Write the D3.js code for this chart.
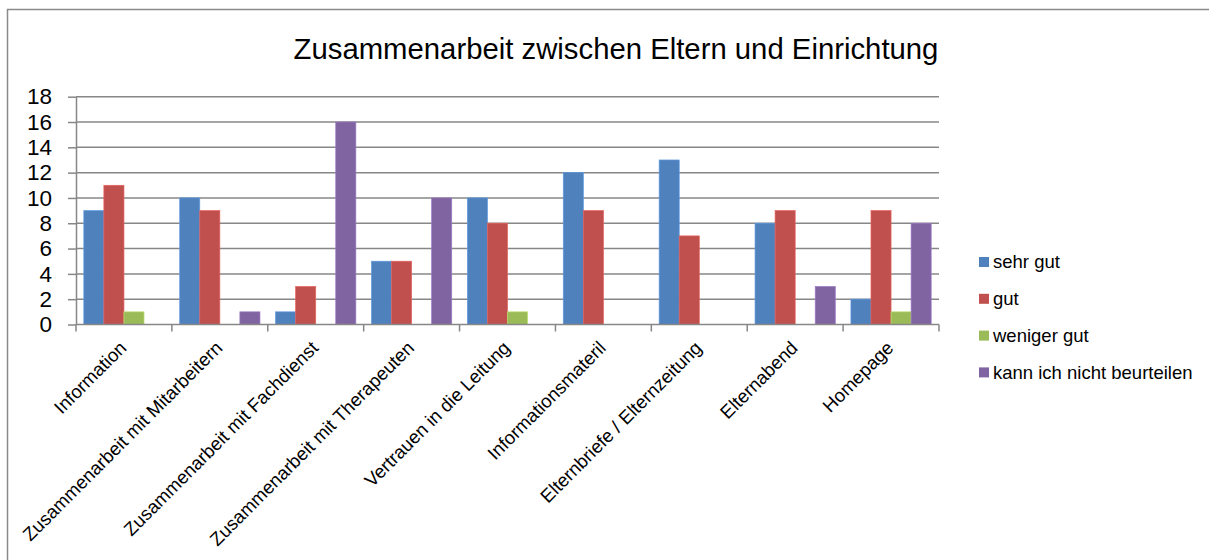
<!DOCTYPE html>
<html>
<head>
<meta charset="utf-8">
<script src="https://cdn.jsdelivr.net/npm/d3@7"></script>
<style>
	body { margin: 0; background: #fff; }
	svg { display: block; font-family: 'Liberation Sans', Arial, sans-serif; }
</style>
</head>
<body>
<div id="chart"></div>
<script>
// Daten
const categories = ['Information', 'Zusammenarbeit mit Mitarbeitern', 'Zusammenarbeit mit Fachdienst',
	'Zusammenarbeit mit Therapeuten', 'Vertrauen in die Leitung', 'Informationsmateril',
	'Elternbriefe / Elternzeitung', 'Elternabend', 'Homepage'];
const seriesNames = ['sehr gut', 'gut', 'weniger gut', 'kann ich nicht beurteilen'];
const sehrGut   = [9, 10, 1, 5, 10, 12, 13, 8, 2];
const gut       = [11, 9, 3, 5, 8, 9, 7, 9, 9];
const wenigerGut = [1, 0, 0, 0, 1, 0, 0, 0, 1];
const kannNicht = [0, 1, 16, 10, 0, 0, 0, 3, 8];
const yTicks = [0, 2, 4, 6, 8, 10, 12, 14, 16, 18];
const colors = ['#4F81BD', '#C0504D', '#9BBB59', '#8064A2'];
const title = 'Zusammenarbeit zwischen Eltern und Einrichtung';

const W = 1209, H = 560;
const allSeries = [sehrGut, gut, wenigerGut, kannNicht];

const svg = d3.select('#chart').append('svg').attr('width', W).attr('height', H);

// Rahmen
svg.append('rect')
	.attr('x', 7.5).attr('y', 9.5).attr('width', 1400).attr('height', 800)
	.attr('fill', 'none').attr('stroke', '#8a8a8a').attr('stroke-width', 1.5);

svg.append('text')
	.attr('x', 616).attr('y', 59)
	.attr('text-anchor', 'middle')
	.attr('font-size', 29.3)
	.text(title);

const plot = {left: 76, right: 939, top: 96.7, bottom: 324.5};

const x0 = d3.scaleBand().domain(categories).range([plot.left, plot.right]).paddingInner(0).paddingOuter(0);
const x1 = d3.scaleBand().domain(d3.range(4)).range([0, x0.bandwidth()]).paddingOuter(0.39).paddingInner(0);
const y = d3.scaleLinear().domain([0, 18]).range([plot.bottom, plot.top]);

// Gitterlinien
svg.append('g').selectAll('line').data(yTicks.filter(d => d > 0)).join('line')
	.attr('x1', plot.left).attr('x2', plot.right)
	.attr('y1', d => y(d)).attr('y2', d => y(d))
	.attr('stroke', '#878787').attr('stroke-width', 1.5);

// Y-Achse
const yAxis = svg.append('g')
	.attr('transform', `translate(${plot.left},0)`)
	.call(d3.axisLeft(y).tickValues(yTicks).tickSize(8).tickPadding(16).tickSizeOuter(0));
yAxis.select('.domain').attr('stroke', '#878787').attr('stroke-width', 1.5);
yAxis.selectAll('.tick line').attr('stroke', '#878787').attr('stroke-width', 1.5);
yAxis.selectAll('text').attr('font-size', 22.5).attr('fill', '#000')
	.attr('font-family', "'Liberation Sans', Arial, sans-serif");

// Balken
const groups = svg.append('g').selectAll('g').data(categories).join('g')
	.attr('transform', d => `translate(${x0(d)},0)`);
groups.selectAll('rect')
	.data((c, i) => allSeries.map((s, k) => ({k, v: s[i]})).filter(d => d.v > 0))
	.join('rect')
	.attr('x', d => x1(d.k))
	.attr('width', x1.bandwidth())
	.attr('y', d => y(d.v))
	.attr('height', d => y(0) - y(d.v))
	.attr('fill', d => colors[d.k])
	.attr('stroke', d => d3.color(colors[d.k]).brighter(0.5))
	.attr('stroke-width', 0.7);

// X-Achse
const boundaries = categories.map(c => x0(c)).concat([plot.right]);
const xg = svg.append('g');
xg.append('line')
	.attr('x1', plot.left).attr('x2', plot.right)
	.attr('y1', plot.bottom).attr('y2', plot.bottom)
	.attr('stroke', '#878787').attr('stroke-width', 1.5);
xg.selectAll('line.tick').data(boundaries).join('line')
	.attr('class', 'tick')
	.attr('x1', d => d).attr('x2', d => d)
	.attr('y1', plot.bottom).attr('y2', plot.bottom + 7)
	.attr('stroke', '#878787').attr('stroke-width', 1.5);

xg.selectAll('text').data(categories).join('text')
	.attr('transform', d => `translate(${x0(d) + x0.bandwidth() / 2 - 1},${plot.bottom + 20}) rotate(-45)`)
	.attr('text-anchor', 'end')
	.attr('dy', '0.35em')
	.attr('font-size', 18.6)
	.text(d => d);

// Legende
const legend = svg.append('g').selectAll('g').data(seriesNames).join('g')
	.attr('transform', (d, i) => `translate(979,${262 + i * 36.8})`);
legend.append('rect')
	.attr('x', 0).attr('y', -5).attr('width', 10).attr('height', 10)
	.attr('fill', (d, i) => colors[i]);
legend.append('text')
	.attr('x', 14).attr('y', 0).attr('dy', '0.35em')
	.attr('font-size', 18.5)
	.text(d => d);
</script>
</body>
</html>
